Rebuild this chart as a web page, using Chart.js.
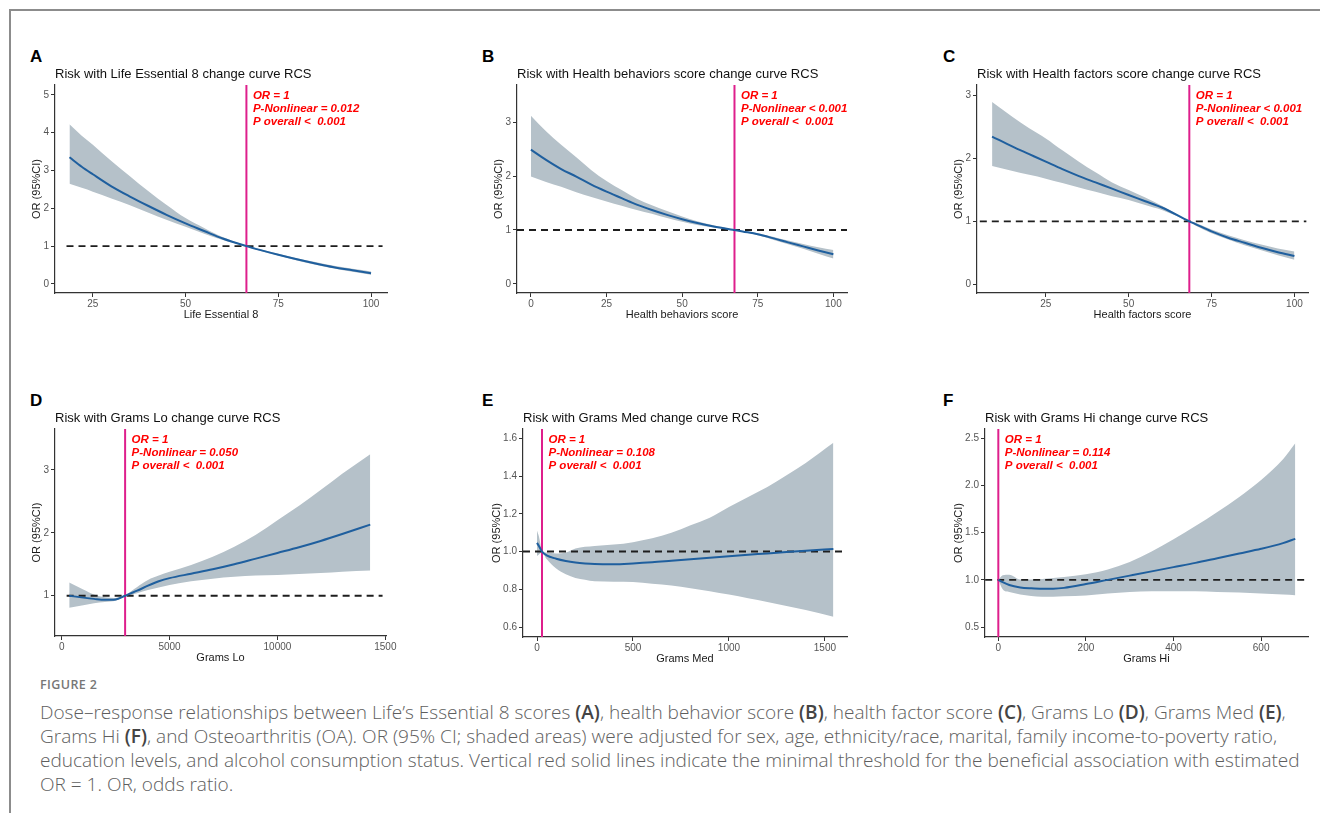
<!DOCTYPE html>
<html>
<head>
<meta charset="utf-8">
<script src="https://cdn.jsdelivr.net/npm/chart.js@4.4.0/dist/chart.umd.min.js"></script>
<style>
  body { margin: 0; background: #fff; width: 1320px; height: 813px; overflow: hidden; position: relative;
         font-family: "Liberation Sans", Arial, sans-serif; }
  #frame { position: absolute; left: 9px; top: 9px; width: 1320px; height: 820px;
           border-top: 2px solid #8c8c8c; border-left: 2px solid #8c8c8c; }
  .letter { position: absolute; font-weight: bold; font-size: 17px; line-height: 17px; color: #000; }
  .ptitle { position: absolute; font-size: 13px; line-height: 13px; color: #111; white-space: nowrap; }
  .box { position: absolute; }
  .caphead { position: absolute; left: 40px; top: 677px; font-family: "Open Sans", sans-serif; font-size: 12.5px;
             font-weight: 600; letter-spacing: 0.4px; color: #777; line-height: 16px; }
  .cap { position: absolute; left: 40px; font-family: "Open Sans", sans-serif; font-size: 19.05px; font-weight: 300;
         color: #5e5e5e; line-height: 24px; white-space: nowrap; }
  .cap b { color: #444; font-weight: 600; }
</style>
</head>
<body>
<div id="frame"></div>

<script>
// ---- data (OR and 95% CI) ----
// A: Life Essential 8
var xA   = [18.7, 22, 25, 30, 35, 40, 45, 50, 55, 60, 66.4, 70, 75, 80, 85, 90, 95, 100];
var fitA = [3.35, 3.10, 2.90, 2.58, 2.31, 2.06, 1.82, 1.60, 1.40, 1.20, 1.00, 0.90, 0.77, 0.65, 0.54, 0.44, 0.36, 0.28];
var hiA  = [4.22, 3.92, 3.68, 3.25, 2.85, 2.45, 2.08, 1.74, 1.48, 1.24, 1.01, 0.92, 0.80, 0.68, 0.58, 0.48, 0.40, 0.33];
var loA  = [2.65, 2.54, 2.44, 2.26, 2.08, 1.88, 1.69, 1.51, 1.33, 1.16, 0.99, 0.88, 0.75, 0.62, 0.51, 0.41, 0.32, 0.24];

// B: Health behaviors score
var xB   = [0, 5, 10, 15, 20, 25, 30, 35, 40, 45, 50, 55, 60, 67.3, 70, 75, 80, 85, 90, 95, 100];
var fitB = [2.49, 2.30, 2.13, 1.99, 1.84, 1.71, 1.59, 1.47, 1.37, 1.28, 1.20, 1.13, 1.07, 1.00, 0.972, 0.92, 0.848, 0.77, 0.695, 0.62, 0.55];
var hiB  = [3.12, 2.83, 2.58, 2.35, 2.11, 1.91, 1.74, 1.58, 1.46, 1.35, 1.25, 1.16, 1.09, 1.005, 0.982, 0.94, 0.875, 0.805, 0.74, 0.68, 0.63];
var loB  = [1.99, 1.89, 1.80, 1.70, 1.61, 1.53, 1.45, 1.37, 1.30, 1.22, 1.15, 1.09, 1.05, 0.995, 0.962, 0.90, 0.82, 0.735, 0.65, 0.56, 0.47];

// C: Health factors score
var xC   = [8.8, 15, 20, 25, 30, 35, 40, 45, 50, 55, 60, 68.3, 70, 75, 80, 85, 90, 95, 100];
var fitC = [2.35, 2.19, 2.07, 1.95, 1.83, 1.72, 1.62, 1.52, 1.42, 1.32, 1.22, 1.00, 0.96, 0.84, 0.74, 0.66, 0.58, 0.51, 0.45];
var hiC  = [2.90, 2.66, 2.48, 2.32, 2.13, 1.95, 1.78, 1.62, 1.50, 1.38, 1.25, 1.01, 0.98, 0.87, 0.78, 0.70, 0.63, 0.57, 0.52];
var loC  = [1.88, 1.80, 1.74, 1.68, 1.61, 1.54, 1.47, 1.40, 1.34, 1.26, 1.18, 0.99, 0.94, 0.81, 0.71, 0.62, 0.54, 0.46, 0.39];

// D: Grams Lo
var xD   = [350, 1000, 1500, 2000, 2500, 2940, 3500, 4000, 4500, 5000, 6000, 7000, 8000, 9000, 10000, 11000, 12000, 13000, 14300];
var fitD = [1.00, 0.97, 0.95, 0.935, 0.94, 1.00, 1.08, 1.16, 1.23, 1.28, 1.35, 1.42, 1.50, 1.59, 1.68, 1.77, 1.87, 1.98, 2.13];
var hiD  = [1.21, 1.10, 1.02, 0.975, 0.965, 1.01, 1.14, 1.25, 1.32, 1.38, 1.49, 1.62, 1.78, 1.97, 2.20, 2.43, 2.68, 2.94, 3.25];
var loD  = [0.81, 0.85, 0.88, 0.90, 0.92, 0.99, 1.04, 1.09, 1.13, 1.17, 1.23, 1.27, 1.30, 1.32, 1.33, 1.345, 1.36, 1.38, 1.40];

// E: Grams Med
var xE   = [0, 10, 26, 50, 100, 150, 200, 250, 300, 400, 500, 600, 700, 800, 900, 1000, 1100, 1200, 1300, 1400, 1544];
var fitE = [1.046, 1.03, 1.00, 0.98, 0.962, 0.95, 0.942, 0.937, 0.934, 0.933, 0.937, 0.943, 0.951, 0.959, 0.967, 0.975, 0.983, 0.99, 0.998, 1.005, 1.013];
var hiE  = [1.11, 1.08, 1.005, 0.995, 0.99, 0.995, 1.016, 1.025, 1.03, 1.037, 1.05, 1.07, 1.10, 1.14, 1.18, 1.237, 1.29, 1.343, 1.405, 1.47, 1.577];
var loE  = [0.977, 0.985, 0.995, 0.96, 0.91, 0.88, 0.86, 0.85, 0.842, 0.84, 0.838, 0.83, 0.82, 0.806, 0.79, 0.772, 0.753, 0.733, 0.712, 0.69, 0.655];

// F: Grams Hi
var xF   = [0, 10, 25, 50, 75, 100, 125, 150, 200, 250, 300, 350, 400, 450, 500, 550, 600, 650, 678];
var fitF = [1.0, 0.975, 0.945, 0.92, 0.91, 0.905, 0.906, 0.915, 0.955, 1.0, 1.045, 1.09, 1.135, 1.18, 1.23, 1.28, 1.33, 1.39, 1.435];
var hiF  = [1.0, 1.05, 1.055, 1.005, 1.005, 1.01, 1.02, 1.03, 1.06, 1.11, 1.19, 1.30, 1.43, 1.57, 1.72, 1.88, 2.06, 2.28, 2.45];
var loF  = [1.0, 0.9, 0.87, 0.845, 0.83, 0.822, 0.822, 0.826, 0.835, 0.855, 0.87, 0.878, 0.88, 0.878, 0.872, 0.865, 0.855, 0.845, 0.838];

// reference point (OR = 1) and dashed reference line span
var refX   = [66.4, 67.3, 68.3, 2940, 26, 0];
var hlineA = [17.9, 103.1], hlineB = [-4.6, 104.5], hlineC = [5.1, 103.6];
var hlineD = [230, 14870], hlineE = [-73, 1615], hlineF = [-30, 707];

// axis limits
var xlimA = [14.8, 104.3], ylimA = [-0.24, 5.26];
var xlimB = [-4.6, 104.5], ylimB = [-0.17, 3.69];
var xlimC = [4.25, 104.1], ylimC = [-0.14, 3.17];
var xlimD = [-309, 15030], ylimD = [0.36, 3.65];
var xlimE = [-73, 1615],   ylimE = [0.547, 1.65];
var xlimF = [-30.4, 707],  ylimF = [0.394, 2.6];

// ticks
var xTicksA = [25, 50, 75, 100], yTicksA = [0, 1, 2, 3, 4, 5];
var xTicksB = [0, 25, 50, 75, 100], yTicksB = [0, 1, 2, 3];
var xTicksC = [25, 50, 75, 100], yTicksC = [0, 1, 2, 3];
var xTicksD = [0, 5000, 10000, 15000], xLabelsD = ['0', '5000', '10000', '1500'], yTicksD = [1, 2, 3];
var xTicksE = [0, 500, 1000, 1500], yTicksE = [0.6, 0.8, 1.0, 1.2, 1.4, 1.6];
var xTicksF = [0, 200, 400, 600], yTicksF = [0.5, 1.0, 1.5, 2.0, 2.5];

// texts
var letters = ['A', 'B', 'C', 'D', 'E', 'F'];
var titles = ['Risk with Life Essential 8 change curve RCS', 'Risk with Health behaviors score change curve RCS',
              'Risk with Health factors score change curve RCS', 'Risk with Grams Lo change curve RCS',
              'Risk with Grams Med change curve RCS', 'Risk with Grams Hi change curve RCS'];
var xTitles = ['Life Essential 8', 'Health behaviors score', 'Health factors score', 'Grams Lo', 'Grams Med', 'Grams Hi'];
var pNonlinear = ['P-Nonlinear = 0.012', 'P-Nonlinear < 0.001', 'P-Nonlinear < 0.001',
                  'P-Nonlinear = 0.050', 'P-Nonlinear = 0.108', 'P-Nonlinear = 0.114'];

var FONT = '"Liberation Sans", Arial, sans-serif';

// red annotation beside the reference line
var annotate = {
  id: 'annotate',
  afterDatasetsDraw: function(chart, args, opts) {
    var ctx = chart.ctx;
    var x = chart.scales.x.getPixelForValue(opts.at) + 6.5;
    ctx.save();
    ctx.font = 'italic bold 11.5px ' + FONT;
    ctx.fillStyle = '#ff0000';
    ctx.textBaseline = 'middle';
    for (var i = 0; i < opts.lines.length; i++) {
      ctx.fillText(opts.lines[i], x, chart.chartArea.top + 10.5 + i * 13.4);
    }
    ctx.restore();
  }
};

function pts(xs, ys) {
  return xs.map(function(x, i) { return {x: x, y: ys[i]}; });
}

function decimals(v) { return String(v).indexOf('.') < 0 ? 0 : 1; }

// box = plot panel in the page (L,T,R,B), yw = width kept for the y axis
function makePanel(p) {
  var L = p.box[0], T = p.box[1], R = p.box[2], B = p.box[3];
  var padTop = 10, padRight = 12, xh = 31;
  var wrap = document.createElement('div');
  wrap.className = 'box';
  wrap.style.left = (L - p.yw) + 'px';
  wrap.style.top = (T - padTop) + 'px';
  var cv = document.createElement('canvas');
  cv.width = R - L + p.yw + padRight;
  cv.height = B - T + padTop + xh;
  cv.style.width = cv.width + 'px';
  cv.style.height = cv.height + 'px';
  wrap.appendChild(cv);
  document.body.appendChild(wrap);

  var lt = document.createElement('div');
  lt.className = 'letter';
  lt.textContent = p.letter;
  lt.style.left = p.letterX + 'px';
  lt.style.top = (T - 37.4) + 'px';
  document.body.appendChild(lt);

  var tt = document.createElement('div');
  tt.className = 'ptitle';
  tt.textContent = p.title;
  tt.style.left = L + 'px';
  tt.style.top = (T - 18.3) + 'px';
  document.body.appendChild(tt);

  var dig = Math.max.apply(null, p.yTicks.map(decimals));

  new Chart(cv.getContext('2d'), {
    type: 'line',
    data: {
      datasets: [
        {data: pts(p.x, p.fit), borderColor: '#1f5f9e', borderWidth: 2, pointRadius: 0,
         cubicInterpolationMode: 'monotone', fill: false},
        {data: [{x: p.ref, y: p.ylim[0]}, {x: p.ref, y: p.ylim[1]}], borderColor: '#de1f8c',
         borderWidth: 2, pointRadius: 0, fill: false},
        {data: [{x: p.hline[0], y: 1}, {x: p.hline[1], y: 1}], borderColor: '#1e1e1e', borderWidth: 1.9,
         borderDash: [7, 5], pointRadius: 0, fill: false},
        {data: pts(p.x, p.hi), borderColor: 'rgba(0,0,0,0)', borderWidth: 0, pointRadius: 0,
         backgroundColor: '#b5c1c9', fill: '+1', cubicInterpolationMode: 'monotone'},
        {data: pts(p.x, p.lo), borderColor: 'rgba(0,0,0,0)', borderWidth: 0, pointRadius: 0,
         fill: false, cubicInterpolationMode: 'monotone'}
      ]
    },
    options: {
      responsive: false,
      animation: false,
      layout: {padding: {top: padTop, right: padRight, left: 0, bottom: 0}},
      plugins: {
        legend: {display: false},
        tooltip: {enabled: false},
        annotate: {at: p.ref, lines: ['OR = 1', p.pnl, 'P overall <  0.001']}
      },
      scales: {
        x: {
          type: 'linear', min: p.xlim[0], max: p.xlim[1],
          afterBuildTicks: function(s) { s.ticks = p.xTicks.map(function(v) { return {value: v}; }); },
          afterFit: function(s) { s.height = xh; },
          ticks: {
            autoSkip: false, maxRotation: 0, padding: 1, color: '#555', font: {family: FONT, size: 10},
            callback: function(v) { var i = p.xTicks.indexOf(v); return p.xLabels ? p.xLabels[i] : String(v); }
          },
          grid: {drawOnChartArea: false, drawTicks: true, tickLength: 4, tickColor: '#333', color: '#333'},
          border: {display: true, color: '#333', width: 1.2},
          title: {display: true, text: p.xTitle, color: '#1a1a1a', font: {family: FONT, size: 11},
                  padding: {top: 0, bottom: 2}}
        },
        y: {
          type: 'linear', min: p.ylim[0], max: p.ylim[1],
          afterBuildTicks: function(s) { s.ticks = p.yTicks.map(function(v) { return {value: v}; }); },
          afterFit: function(s) { s.width = p.yw; },
          ticks: {
            autoSkip: false, padding: 2, color: '#555', font: {family: FONT, size: 10},
            callback: function(v) { return v.toFixed(dig); }
          },
          grid: {drawOnChartArea: false, drawTicks: true, tickLength: 4, tickColor: '#333', color: '#333'},
          border: {display: true, color: '#333', width: 1.2},
          title: {display: true, text: 'OR (95%CI)', color: '#1a1a1a', font: {family: FONT, size: 11},
                  padding: {top: 1.5, bottom: 2}}
        }
      }
    },
    plugins: [annotate]
  });
}

var panels = [
  {letter: letters[0], letterX: 30, title: titles[0], xTitle: xTitles[0], pnl: pNonlinear[0], box: [55, 85, 387, 293], yw: 26,
   x: xA, fit: fitA, hi: hiA, lo: loA, ref: refX[0], hline: hlineA, xlim: xlimA, ylim: ylimA, xTicks: xTicksA, yTicks: yTicksA},
  {letter: letters[1], letterX: 482, title: titles[1], xTitle: xTitles[1], pnl: pNonlinear[1], box: [517, 85, 847, 293], yw: 26,
   x: xB, fit: fitB, hi: hiB, lo: loB, ref: refX[1], hline: hlineB, xlim: xlimB, ylim: ylimB, xTicks: xTicksB, yTicks: yTicksB},
  {letter: letters[2], letterX: 943, title: titles[2], xTitle: xTitles[2], pnl: pNonlinear[2], box: [977, 85, 1308, 293], yw: 26,
   x: xC, fit: fitC, hi: hiC, lo: loC, ref: refX[2], hline: hlineC, xlim: xlimC, ylim: ylimC, xTicks: xTicksC, yTicks: yTicksC},
  {letter: letters[3], letterX: 30, title: titles[3], xTitle: xTitles[3], pnl: pNonlinear[3], box: [55, 429, 386, 636], yw: 26,
   x: xD, fit: fitD, hi: hiD, lo: loD, ref: refX[3], hline: hlineD, xlim: xlimD, ylim: ylimD, xTicks: xTicksD, xLabels: xLabelsD, yTicks: yTicksD},
  {letter: letters[4], letterX: 482, title: titles[4], xTitle: xTitles[4], pnl: pNonlinear[4], box: [523, 429, 847, 637], yw: 34,
   x: xE, fit: fitE, hi: hiE, lo: loE, ref: refX[4], hline: hlineE, xlim: xlimE, ylim: ylimE, xTicks: xTicksE, yTicks: yTicksE},
  {letter: letters[5], letterX: 943, title: titles[5], xTitle: xTitles[5], pnl: pNonlinear[5], box: [985, 429, 1308, 637], yw: 34,
   x: xF, fit: fitF, hi: hiF, lo: loF, ref: refX[5], hline: hlineF, xlim: xlimF, ylim: ylimF, xTicks: xTicksF, yTicks: yTicksF}
];

panels.forEach(makePanel);
</script>

<div class="caphead">FIGURE 2</div>
<div class="cap" style="top:700px">Dose–response relationships between Life’s Essential 8 scores <b>(A)</b>, health behavior score <b>(B)</b>, health factor score <b>(C)</b>, Grams Lo <b>(D)</b>, Grams Med <b>(E)</b>,</div>
<div class="cap" style="top:724px">Grams Hi <b>(F)</b>, and Osteoarthritis (OA). OR (95% CI; shaded areas) were adjusted for sex, age, ethnicity/race, marital, family income-to-poverty ratio,</div>
<div class="cap" style="top:748px">education levels, and alcohol consumption status. Vertical red solid lines indicate the minimal threshold for the beneficial association with estimated</div>
<div class="cap" style="top:772px">OR = 1. OR, odds ratio.</div>
</body>
</html>
